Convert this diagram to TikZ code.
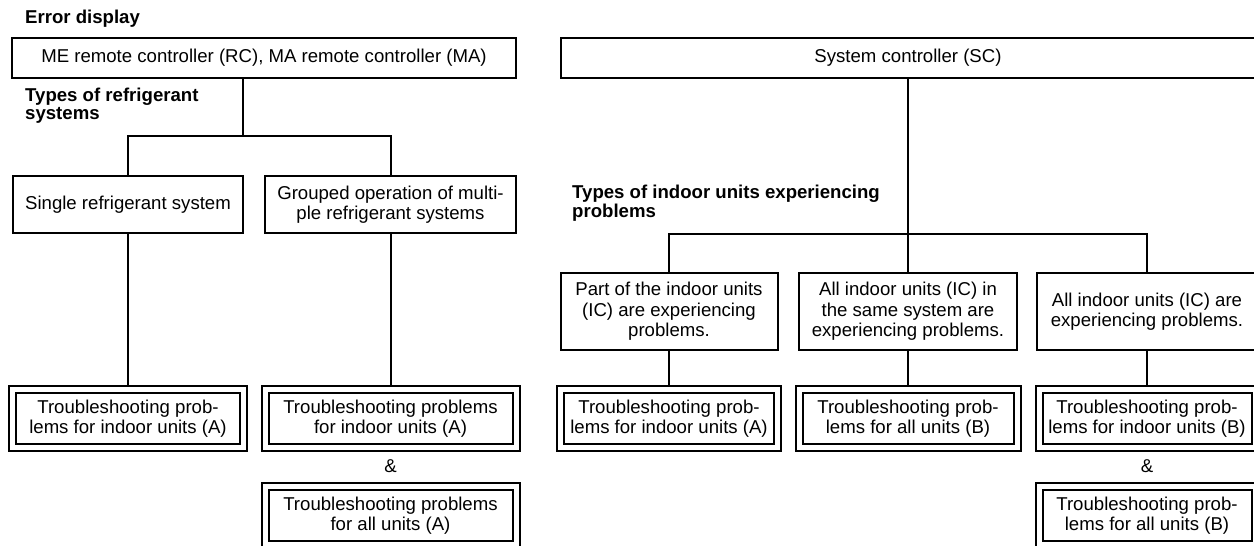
\documentclass[tikz,border=0pt]{standalone}
\usepackage{fontspec}
\setmainfont{Liberation Sans}
\newcommand\boxfnt{\fontsize{18.6}{20.5}\selectfont}
\newcommand\lblfnt{\fontsize{18.6}{18.5}\selectfont\bfseries}
\tikzset{
  box/.style={draw, line width=2pt, inner sep=0pt, outer sep=0pt, align=center, font=\boxfnt},
  dbox/.style={box, double, double distance=5pt},
  conn/.style={line width=2pt},
  dconn/.style={conn, shorten >=3.5pt},
  lbl/.style={font=\lblfnt, align=left, anchor=north west, inner sep=0pt},
  amp/.style={font=\boxfnt, inner sep=0pt}
}
\begin{document}
\begin{tikzpicture}[x=1pt,y=-1pt]
\useasboundingbox (0,0) rectangle (1254,546);
\fill[white] (0,0) rectangle (1254,546);
\clip (0,0) rectangle (1254,546);

% labels
\node[lbl] (errlbl) at (25,9.5) {Error display};
\node[lbl] (reflbl) at (25,87.5) {Types of refrigerant\\systems};
\node[lbl] (indlbl) at (572,185) {Types of indoor units experiencing\\problems};

% left tree
\node[box, minimum width=504pt, minimum height=40pt] (me) at (264,58) {ME remote controller (RC), MA remote controller (MA)};
\node[box, minimum width=230.5pt, minimum height=57pt] (single) at (128,204.5) {Single refrigerant system};
\node[box, minimum width=251pt, minimum height=57pt] (grp) at (390.5,204.5) {Grouped operation of multi-\\ple refrigerant systems};
\node[dbox, minimum width=231pt, minimum height=58pt] (res1) at (128,418.5) {Troubleshooting prob-\\lems for indoor units (A)};
\node[dbox, minimum width=251pt, minimum height=58pt] (res2) at (390.5,418.5) {Troubleshooting problems\\for indoor units (A)};
\node[amp] (amp1) at (390.5,466) {\&};
\node[dbox, minimum width=251pt, minimum height=58pt] (res3) at (390.5,515.5) {Troubleshooting problems\\for all units (A)};

\coordinate (jl) at (243,136);
\draw[conn] (me.south -| jl) -- (jl);
\draw[conn] (single.north) -- (single.north |- jl) -- (grp.north |- jl) -- (grp.north);
\draw[dconn] (single.south) -- (res1.north);
\draw[dconn] (grp.south) -- (res2.north);

% right tree
\node[box, minimum width=694pt, minimum height=40pt] (sc) at (908,58) {System controller (SC)};
\node[box, minimum width=217pt, minimum height=77pt] (part) at (669,311.5) {Part of the indoor units\\(IC) are experiencing\\problems.};
\node[box, minimum width=218pt, minimum height=77pt] (same) at (908,311.5) {All indoor units (IC) in\\the same system are\\experiencing problems.};
\node[box, minimum width=220pt, minimum height=77pt] (allu) at (1147,311.5) {All indoor units (IC) are\\experiencing problems.};
\node[dbox, minimum width=217pt, minimum height=58pt] (res4) at (669,418.5) {Troubleshooting prob-\\lems for indoor units (A)};
\node[dbox, minimum width=218pt, minimum height=58pt] (res5) at (908,418.5) {Troubleshooting prob-\\lems for all units (B)};
\node[dbox, minimum width=216pt, minimum height=58pt] (res6) at (1147,418.5) {Troubleshooting prob-\\lems for indoor units (B)};
\node[amp] (amp2) at (1147,466) {\&};
\node[dbox, minimum width=216pt, minimum height=58pt] (res7) at (1147,515.5) {Troubleshooting prob-\\lems for all units (B)};

\coordinate (jr) at (908,234);
\draw[conn] (sc.south) -- (jr);
\draw[conn] (part.north) -- (part.north |- jr) -- (allu.north |- jr) -- (allu.north);
\draw[conn] (jr) -- (same.north);
\draw[dconn] (part.south) -- (res4.north);
\draw[dconn] (same.south) -- (res5.north);
\draw[dconn] (allu.south) -- (res6.north);
\end{tikzpicture}
\end{document}
